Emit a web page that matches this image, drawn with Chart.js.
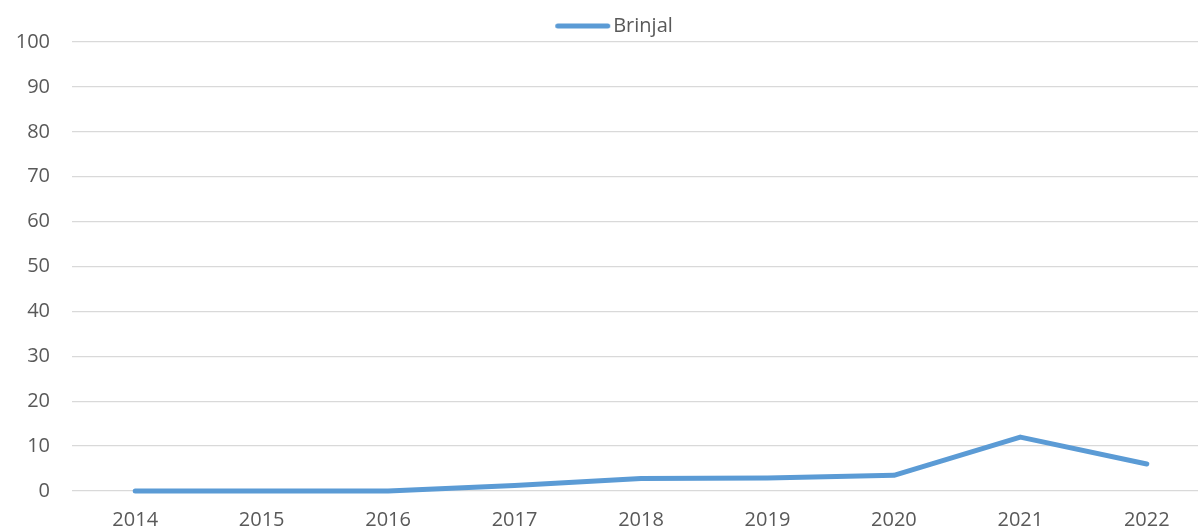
<!DOCTYPE html>
<html>
<head>
<meta charset="utf-8">
<script src="https://cdn.jsdelivr.net/npm/chart.js@4"></script>
<style>
html,body{margin:0;padding:0;background:#fff;overflow:hidden;width:1198px;height:530px;}
canvas{position:absolute;left:0;top:0;}
</style>
</head>
<body>
<canvas id="c" width="1210" height="530"></canvas>
<script>
const years = ['2014','2015','2016','2017','2018','2019','2020','2021','2022'];
const brinjal = [0, 0, 0, 1.2, 2.8, 2.9, 3.5, 12, 6];
const seriesName = 'Brinjal';
const yMin = 0, yMax = 100, yStep = 10;

const lineColor = '#5b9bd5';
const font = {family: "'Open Sans', 'Noto Sans', sans-serif", size: 20};

// legend swatch: thick line with round caps
const sw = document.createElement('canvas');
sw.width = 64; sw.height = 10;
(function(){
  const g = sw.getContext('2d');
  g.strokeStyle = lineColor; g.lineWidth = 5; g.lineCap = 'round';
  g.beginPath(); g.moveTo(10.5, 5); g.lineTo(60.5, 5); g.stroke();
})();

const shiftLegend = {
  id: 'shiftLegend',
  afterLayout(chart) {
    const l = chart.legend;
    if (l) { l.left += 9; l.right += 9; l.top += 4; l.bottom += 4; }
  }
};

new Chart(document.getElementById('c'), {
  type: 'line',
  data: {
    labels: years,
    datasets: [{
      label: seriesName,
      data: brinjal,
      borderColor: lineColor,
      backgroundColor: lineColor,
      borderWidth: 5,
      borderCapStyle: 'round',
      borderJoinStyle: 'round',
      pointRadius: 0,
      pointHoverRadius: 0,
      pointStyle: sw,
      tension: 0,
      fill: false,
      clip: false
    }]
  },
  plugins: [shiftLegend],
  options: {
    responsive: false,
    animation: false,
    devicePixelRatio: 1,
    layout: {padding: {left: 0, right: 0, top: 9, bottom: 0}},
    plugins: {
      tooltip: {enabled: false},
      legend: {
        display: true,
        position: 'top',
        labels: {
          usePointStyle: true,
          pointStyleWidth: 48,
          boxHeight: 10,
          color: '#595959',
          font: font,
          padding: 3
        }
      }
    },
    scales: {
      x: {
        offset: true,
        afterFit: (s) => { s.height = 39; },
        grid: {display: false, drawTicks: false},
        border: {display: false},
        ticks: {color: '#595959', font: font, padding: 17, maxRotation: 0, autoSkip: false}
      },
      y: {
        min: yMin, max: yMax,
        afterFit: (s) => { s.width = 72; },
        grid: {color: '#d9d9d9', lineWidth: 1.3, drawTicks: false},
        border: {display: false},
        ticks: {stepSize: yStep, color: '#595959', font: font, padding: 22}
      }
    }
  }
});
</script>
</body>
</html>
